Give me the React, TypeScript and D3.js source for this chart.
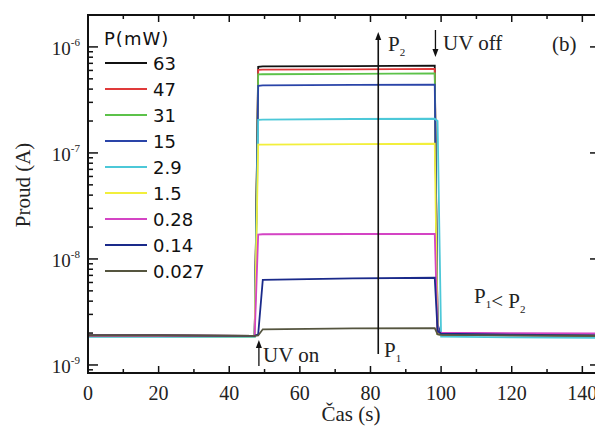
import { useEffect, useRef } from "react"
import * as d3 from "d3"

// time points (s) shared by all curves
const times = [0, 20, 47.2, 48.2, 49.5, 75, 98.2, 99, 100, 120, 145]

// UV power in mW, legend order
const powers = ["63", "47", "31", "15", "2.9", "1.5", "0.28", "0.14", "0.027"]
const colors = ["#111111", "#e03a3a", "#5cc24a", "#2a44a8", "#4cc8d8", "#f2ef3c", "#d444c4", "#1a2a8a", "#55553f"]

// current (A) at each time point
const i63 = [1.9e-9, 1.9e-9, 1.88e-9, 6.5e-7, 6.55e-7, 6.6e-7, 6.65e-7, 1.95e-9, 1.93e-9, 1.9e-9, 1.88e-9]
const i47 = [1.9e-9, 1.9e-9, 1.88e-9, 6.08e-7, 6.1e-7, 6.15e-7, 6.2e-7, 2.0e-9, 1.98e-9, 1.95e-9, 1.93e-9]
const i31 = [1.86e-9, 1.86e-9, 1.85e-9, 5.5e-7, 5.52e-7, 5.58e-7, 5.62e-7, 1.97e-9, 1.95e-9, 1.92e-9, 1.9e-9]
const i15 = [1.88e-9, 1.88e-9, 1.87e-9, 4.3e-7, 4.33e-7, 4.38e-7, 4.4e-7, 2.4e-9, 1.96e-9, 1.93e-9, 1.91e-9]
const i2_9 = [1.84e-9, 1.84e-9, 1.83e-9, 2.05e-7, 2.06e-7, 2.09e-7, 2.1e-7, 2.0e-7, 1.85e-9, 1.82e-9, 1.8e-9]
const i1_5 = [1.87e-9, 1.87e-9, 1.86e-9, 1.2e-7, 1.2e-7, 1.21e-7, 1.22e-7, 1.95e-9, 1.94e-9, 1.92e-9, 1.9e-9]
const i0_28 = [1.88e-9, 1.88e-9, 1.87e-9, 1.7e-8, 1.71e-8, 1.72e-8, 1.72e-8, 2.04e-9, 2.02e-9, 2.0e-9, 1.98e-9]
const i0_14 = [1.9e-9, 1.9e-9, 1.88e-9, 1.95e-9, 6.35e-9, 6.55e-9, 6.65e-9, 2.1e-9, 1.97e-9, 1.93e-9, 1.9e-9]
const i0_027 = [1.9e-9, 1.9e-9, 1.88e-9, 1.9e-9, 2.17e-9, 2.21e-9, 2.23e-9, 1.95e-9, 1.92e-9, 1.9e-9, 1.88e-9]
const currents = [i63, i47, i31, i15, i2_9, i1_5, i0_28, i0_14, i0_027]

const xTicks = [0, 20, 40, 60, 80, 100, 120, 140]
const yTicks = [1e-9, 1e-8, 1e-7, 1e-6]

const serif = "'Liberation Serif', 'Times New Roman', serif"
const sans = "'DejaVu Sans', sans-serif"

const App = () => {
  const svgRef = useRef(null)

  useEffect(() => {
    const svg = d3.select(svgRef.current)
    svg.selectAll("*").remove()

    const left = 88, right = 600, top = 15, bottom = 373

    const x = d3.scaleLinear().domain([0, 145]).range([left, right])
    const y = d3.scaleLog().domain([8.4e-10, 2.0e-6]).range([bottom, top])

    const g = svg.append("g")

    // curves
    const line = d3
      .line()
      .x((d) => x(d[0]))
      .y((d) => y(d[1]))

    currents.forEach((vals, i) => {
      const pts = times.map((t, k) => [t, vals[k]])
      g.append("path")
        .datum(pts)
        .attr("fill", "none")
        .attr("stroke", colors[i])
        .attr("stroke-width", 1.8)
        .attr("d", line)
    })

    // ticks
    const ticks = g.append("g").attr("stroke", "#111").attr("stroke-width", 1.5)
    d3.range(0, 146, 10).forEach((t) => {
      const major = t % 20 === 0
      const len = major ? 7 : 4
      ticks.append("line").attr("x1", x(t)).attr("x2", x(t)).attr("y1", bottom).attr("y2", bottom - len)
      ticks.append("line").attr("x1", x(t)).attr("x2", x(t)).attr("y1", top).attr("y2", top + len)
    })
    const yMinor = []
    for (let e = -10; e <= -6; e++) {
      for (let m = 1; m <= 9; m++) {
        const v = m * Math.pow(10, e)
        if (v >= 8.4e-10 && v <= 2.0e-6) yMinor.push(v)
      }
    }
    yMinor.forEach((v) => {
      const major = Math.abs(Math.log10(v) - Math.round(Math.log10(v))) < 1e-6
      const len = major ? 10 : 5
      ticks.append("line").attr("x1", left).attr("x2", left + len).attr("y1", y(v)).attr("y2", y(v))
      ticks.append("line").attr("x1", right).attr("x2", right - len).attr("y1", y(v)).attr("y2", y(v))
    })

    // frame
    g.append("rect")
      .attr("x", left)
      .attr("y", top)
      .attr("width", right - left)
      .attr("height", bottom - top)
      .attr("fill", "none")
      .attr("stroke", "#111")
      .attr("stroke-width", 2)

    // x tick labels
    xTicks.forEach((t) => {
      g.append("text")
        .attr("x", x(t))
        .attr("y", 400)
        .attr("text-anchor", "middle")
        .style("font-family", serif)
        .style("font-size", "20px")
        .attr("fill", "#222")
        .text(t)
    })

    // y tick labels
    yTicks.forEach((v) => {
      const t = g
        .append("text")
        .attr("x", 80)
        .attr("y", y(v) + 8)
        .attr("text-anchor", "end")
        .style("font-family", serif)
        .style("font-size", "19px")
        .attr("fill", "#222")
      t.append("tspan").text("10")
      t.append("tspan").attr("dy", -9).style("font-size", "11px").text("-" + Math.round(-Math.log10(v)))
    })

    // axis titles
    g.append("text")
      .attr("transform", "translate(30,185) rotate(-90)")
      .attr("text-anchor", "middle")
      .style("font-family", serif)
      .style("font-size", "21px")
      .attr("fill", "#222")
      .text("Proud (A)")

    g.append("text")
      .attr("x", 351)
      .attr("y", 421)
      .attr("text-anchor", "middle")
      .style("font-family", serif)
      .style("font-size", "21px")
      .attr("fill", "#222")
      .text("Čas (s)")

    // legend
    g.append("text")
      .attr("x", 104)
      .attr("y", 45)
      .style("font-family", sans)
      .style("font-size", "18px")
      .attr("letter-spacing", "1px")
      .attr("fill", "#111")
      .text("P(mW)")

    powers.forEach((p, i) => {
      const ly = 63 + i * 26
      g.append("line")
        .attr("x1", 105)
        .attr("x2", 147)
        .attr("y1", ly)
        .attr("y2", ly)
        .attr("stroke", colors[i])
        .attr("stroke-width", 2)
      g.append("text")
        .attr("x", 153)
        .attr("y", ly + 7)
        .style("font-family", sans)
        .style("font-size", "18px")
        .attr("fill", "#111")
        .text(p)
    })

    // annotations
    const arrow = (xa, y1, y2, w) => {
      const dir = y2 < y1 ? 1 : -1
      g.append("line")
        .attr("x1", xa)
        .attr("x2", xa)
        .attr("y1", y1)
        .attr("y2", y2 + dir * 6)
        .attr("stroke", "#111")
        .attr("stroke-width", w)
      g.append("path")
        .attr("d", `M${xa - 3},${y2 + dir * 8} L${xa},${y2} L${xa + 3},${y2 + dir * 8} Z`)
        .attr("fill", "#111")
    }

    arrow(x(48.4), 366, 340, 1.3)
    arrow(x(98.4), 30, 57, 1.3)
    arrow(x(82.2), 354, 32, 1.6)

    const label = (lx, ly, parts) => {
      const t = g
        .append("text")
        .attr("x", lx)
        .attr("y", ly)
        .style("font-family", serif)
        .style("font-size", "21px")
        .attr("fill", "#222")
      parts.forEach(([s, sub]) => {
        if (sub) {
          t.append("tspan").attr("dy", 5).style("font-size", "11px").text(s)
          t.append("tspan").attr("dy", -5).text("")
        } else {
          t.append("tspan").text(s)
        }
      })
    }

    label(263, 362, [["UV on"]])
    label(443, 50, [["UV off"]])
    label(388, 51, [["P"], ["2", true]])
    label(384, 357, [["P"], ["1", true]])
    label(474, 303, [["P"], ["1", true], ["< P"], ["2", true]])
    label(552, 51, [["(b)"]])
  }, [])

  return (
    <svg
      ref={svgRef}
      width={595}
      height={430}
      style={{ position: "fixed", left: 0, top: 0, background: "#fff" }}
    ></svg>
  )
}

export default App
